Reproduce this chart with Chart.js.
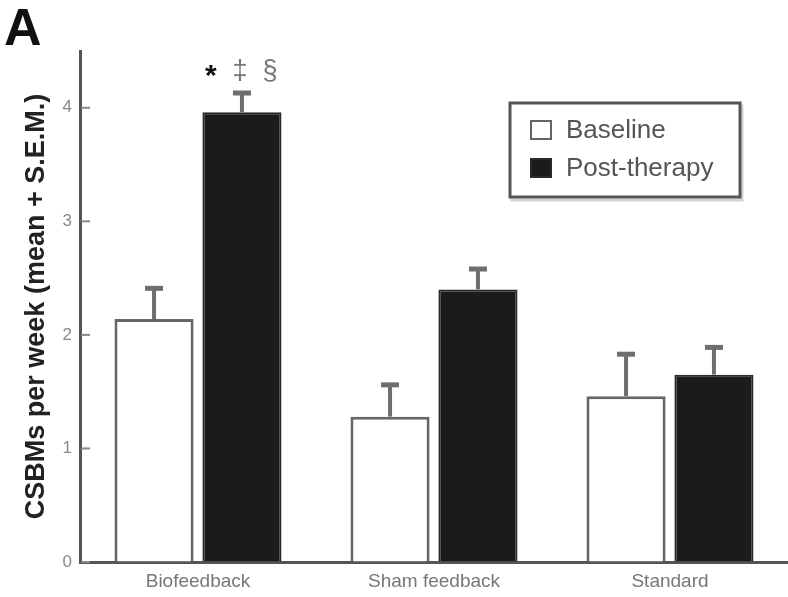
<!DOCTYPE html>
<html>
<head>
<meta charset="utf-8">
<script src="https://cdn.jsdelivr.net/npm/chart.js@4.4.1/dist/chart.umd.min.js"></script>
<style>
  html, body { margin: 0; padding: 0; background: #fff; }
  #wrap { position: relative; width: 788px; height: 597px; }
</style>
</head>
<body>
<div id="wrap"><canvas id="csbmChart"></canvas></div>
<script>
// groups on the x axis
const groups = ['Biofeedback', 'Sham feedback', 'Standard'];
// mean CSBMs per week
const baseline = [2.14, 1.28, 1.46];
const postTherapy = [3.96, 2.40, 1.65];
// S.E.M., drawn as upper whiskers
const baselineSem = [0.27, 0.28, 0.37];
const postTherapySem = [0.17, 0.18, 0.24];
const yTicks = [0, 1, 2, 3, 4];
// significance marks over the biofeedback post-therapy bar
const sigMarks = ['*', '‡', '§'];

Chart.defaults.font.family = '"Liberation Sans", Arial, Helvetica, sans-serif';

// upper error bars
const semBars = {
  id: 'semBars',
  afterDatasetsDraw(chart) {
    const ctx = chart.ctx;
    const yScale = chart.scales.y;
    const sems = [baselineSem, postTherapySem];
    ctx.save();
    ctx.strokeStyle = '#6e6e6e';
    chart.data.datasets.forEach((ds, i) => {
      chart.getDatasetMeta(i).data.forEach((bar, j) => {
        const yTop = yScale.getPixelForValue(ds.data[j] + sems[i][j]);
        ctx.lineWidth = 4;
        ctx.beginPath();
        ctx.moveTo(bar.x, bar.y);
        ctx.lineTo(bar.x, yTop);
        ctx.stroke();
        ctx.lineWidth = 5;
        ctx.beginPath();
        ctx.moveTo(bar.x - 9, yTop);
        ctx.lineTo(bar.x + 9, yTop);
        ctx.stroke();
      });
    });
    ctx.restore();
  }
};

// significance symbols, panel letter, inward y ticks and the boxed legend
const extras = {
  id: 'extras',
  afterDraw(chart) {
    const ctx = chart.ctx;
    const yScale = chart.scales.y;
    const area = chart.chartArea;
    ctx.save();

    // inward tick marks
    ctx.strokeStyle = '#888';
    ctx.lineWidth = 2;
    yTicks.forEach(v => {
      const py = yScale.getPixelForValue(v);
      ctx.beginPath();
      ctx.moveTo(area.left + 1, py);
      ctx.lineTo(area.left + 10, py);
      ctx.stroke();
    });

    // * ‡ §
    const bar = chart.getDatasetMeta(1).data[0];
    const capY = yScale.getPixelForValue(postTherapy[0] + postTherapySem[0]);
    const offsets = [-31, -2, 28];
    ctx.textAlign = 'center';
    ctx.textBaseline = 'alphabetic';
    sigMarks.forEach((m, k) => {
      ctx.fillStyle = k === 0 ? '#111' : '#777';
      ctx.font = (k === 0 ? 'bold 30px' : '27px') + ' "Liberation Sans", Arial, sans-serif';
      ctx.fillText(m, bar.x + offsets[k], capY - 14 + (k === 0 ? 6 : 0));
    });

    // panel letter
    ctx.textAlign = 'left';
    ctx.fillStyle = '#111';
    ctx.font = 'bold 52px "Liberation Sans", Arial, sans-serif';
    ctx.fillText('A', 4, 45);

    // legend box
    const bx = 510, by = 103, bw = 230, bh = 94;
    ctx.lineWidth = 3;
    ctx.strokeStyle = '#d4d4d4';
    ctx.strokeRect(bx + 2, by + 3, bw, bh);
    ctx.fillStyle = '#fff';
    ctx.fillRect(bx, by, bw, bh);
    ctx.strokeStyle = '#555';
    ctx.strokeRect(bx, by, bw, bh);
    ctx.textBaseline = 'middle';
    ctx.font = '26px "Liberation Sans", Arial, sans-serif';
    chart.data.datasets.forEach((ds, i) => {
      const cy = 130 + i * 38;
      ctx.fillStyle = ds.backgroundColor;
      ctx.fillRect(531, cy - 9, 20, 18);
      ctx.lineWidth = 2;
      ctx.strokeStyle = ds.borderColor;
      ctx.strokeRect(531, cy - 9, 20, 18);
      ctx.fillStyle = '#555';
      ctx.fillText(ds.label, 566, cy + 1);
    });
    ctx.restore();
  }
};

const config = {
  type: 'bar',
  data: {
    labels: groups,
    datasets: [{
      label: 'Baseline',
      data: baseline,
      backgroundColor: '#ffffff',
      borderColor: '#666666',
      borderWidth: 3
    }, {
      label: 'Post-therapy',
      data: postTherapy,
      backgroundColor: '#1b1b1b',
      borderColor: '#2a2a2a',
      borderWidth: 2
    }]
  },
  options: {
    responsive: true,
    maintainAspectRatio: false,
    animation: false,
    categoryPercentage: 0.745,
    barPercentage: 0.9,
    layout: { padding: { top: 51, right: 0, bottom: 0, left: 0 } },
    plugins: {
      legend: { display: false },
      tooltip: { enabled: false }
    },
    scales: {
      x: {
        afterFit: s => { s.height = 35; },
        grid: { display: true, drawOnChartArea: false, drawTicks: false },
        border: { color: '#555', width: 3 },
        ticks: { color: '#777', font: { size: 19 }, padding: 8 }
      },
      y: {
        min: 0,
        max: 4.5,
        afterBuildTicks: s => { s.ticks = yTicks.map(v => ({ value: v })); },
        afterFit: s => { s.width = 80; },
        grid: { display: true, drawOnChartArea: false, drawTicks: false },
        border: { color: '#555', width: 3 },
        ticks: { color: '#888', font: { size: 17 }, padding: 8 },
        title: {
          display: true,
          text: 'CSBMs per week (mean + S.E.M.)',
          color: '#222',
          font: { size: 27, weight: 'bold' },
          padding: { top: 20, bottom: 0 }
        }
      }
    }
  },
  plugins: [semBars, extras]
};

new Chart(document.getElementById('csbmChart'), config);
</script>
</body>
</html>
